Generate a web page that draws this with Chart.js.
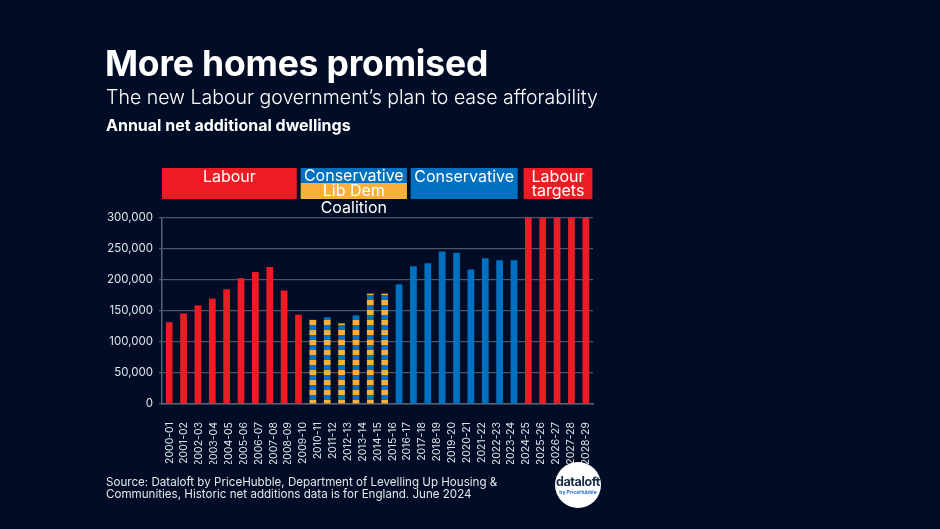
<!DOCTYPE html>
<html>
<head>
<meta charset="utf-8">
<script src="https://cdn.jsdelivr.net/npm/chart.js@4.4.1/dist/chart.umd.min.js"></script>
<style>
  html, body { margin: 0; padding: 0; }
  body { width: 940px; height: 529px; background: #010d26; position: relative; overflow: hidden; font-family: Inter, "Noto Sans", sans-serif; color: #fff; }
  #chartBox { position: absolute; left: 0; top: 0; width: 940px; height: 529px; }
  .txt { position: absolute; white-space: nowrap; line-height: 1; }
  #title { left: 105px; top: 46px; font-size: 35.5px; font-weight: 700; letter-spacing: -0.2px; }
  #subtitle { left: 106px; top: 88px; font-size: 19.5px; font-weight: 300; }
  #axisTitle { left: 106px; top: 117px; font-size: 16px; font-weight: 700; }
  #source { left: 106px; top: 477px; font-size: 11.6px; line-height: 11.5px; color: #e4e6ea; white-space: normal; width: 420px; }
  #logo { position: absolute; left: 555px; top: 462px; width: 46px; height: 46px; border-radius: 50%; background: #fff; text-align: center; }
  #logo .brand { display: block; margin-top: 14px; font-size: 12.5px; font-weight: 700; color: #1b2a4a; letter-spacing: -0.4px; line-height: 1; }
  #logo .by { display: block; font-size: 5px; font-weight: 700; color: #2a6fd6; line-height: 1; margin-top: 1px; }
</style>
</head>
<body>
<div id="chartBox"><canvas id="chart" width="940" height="529"></canvas></div>
<div class="txt" id="title">More homes promised</div>
<div class="txt" id="subtitle">The new Labour government’s plan to ease afforability</div>
<div class="txt" id="axisTitle">Annual net additional dwellings</div>
<div class="txt" id="source">Source: Dataloft by PriceHubble, Department of Levelling Up Housing &amp; Communities, Historic net additions data is for England. June 2024</div>
<div id="logo"><span class="brand">dataloft</span><span class="by">by PriceHubble</span></div>
<script>
// === Dados ===
const tickLabels = [
  "2000-01", "2001-02", "2002-03", "2003-04", "2004-05", "2005-06", "2006-07", "2007-08",
  "2008-09", "2009-10", "2010-11", "2011-12", "2012-13", "2013-14", "2014-15", "2015-16",
  "2016-17", "2017-18", "2018-19", "2019-20", "2020-21", "2021-22", "2022-23", "2023-24",
  "2024-25", "2025-26", "2026-27", "2027-28", "2028-29"
];

// one value per bar (the picture shows 30 bars under 29 labels)
const netAdditions = [
  132000, 146000, 159000, 170000, 185000, 203000, 213000, 221000, 183000, 144000,
  136000, 140000, 130000, 143000, 178000, 178000,
  193000, 222000, 227000, 246000, 244000, 217000, 235000, 232000, 232000,
  300000, 300000, 300000, 300000, 300000
];

const governments = ["Labour", "Coalition", "Conservative", "Labour targets"];
const barsPerGovernment = [10, 6, 9, 5];

const yTicks = [0, 50000, 100000, 150000, 200000, 250000, 300000];

const RED = "#ed1c24";
const BLUE = "#0070c0";
const ORANGE = "#fbb03b";
const FONT = "Inter, 'Noto Sans', sans-serif";

// cada barra recebe o governo correspondente
const barGovernment = [];
governments.forEach((g, i) => {
  for (let k = 0; k < barsPerGovernment[i]; k++) barGovernment.push(g);
});

// Listras laranja/azul da coalizão
function criarListras(ctx) {
  const tile = document.createElement("canvas");
  tile.width = 4;
  tile.height = 10;
  const t = tile.getContext("2d");
  t.fillStyle = ORANGE;
  t.fillRect(0, 0, 4, 5);
  t.fillStyle = BLUE;
  t.fillRect(0, 5, 4, 5);
  return ctx.createPattern(tile, "repeat");
}

const ctx = document.getElementById("chart").getContext("2d");
const stripes = criarListras(ctx);

const barColors = barGovernment.map(g => {
  if (g === "Coalition") return stripes;
  if (g === "Conservative") return BLUE;
  return RED;
});

// === Faixas de governo acima do gráfico ===
const headerPlugin = {
  id: "governmentHeaders",
  afterDraw(chart, args, opts) {
    const c = chart.ctx;
    const area = chart.chartArea;
    const band = (area.right - area.left) / netAdditions.length;
    const top = area.top - 50;
    const bottom = area.top - 19;
    const mid = area.top - 35;
    const px = u => area.left + u * band;

    c.save();
    c.textAlign = "center";
    c.textBaseline = "middle";
    c.font = "400 16px " + FONT;

    opts.spans.forEach(s => {
      const x0 = px(s.from), x1 = px(s.to), cx = (x0 + x1) / 2;
      if (s.name === "Coalition") {
        c.fillStyle = BLUE;
        c.fillRect(x0, top, x1 - x0, mid - top + 0.5);
        c.fillStyle = ORANGE;
        c.fillRect(x0, mid, x1 - x0, bottom - mid);
        c.fillStyle = "#fff";
        c.fillText("Conservative", cx, top + 8.5);
        c.fillText("Lib Dem", cx, mid + 8.5);
        c.fillText("Coalition", cx, area.top - 9.5);
      } else {
        c.fillStyle = s.name === "Conservative" ? BLUE : RED;
        c.fillRect(x0, top, x1 - x0, bottom - top);
        c.fillStyle = "#fff";
        if (s.name === "Labour targets") {
          c.fillText("Labour", cx, top + 9);
          c.fillText("targets", cx, top + 23);
        } else {
          c.fillText(s.name, cx, top + 9);
        }
      }
    });
    c.restore();
  }
};

new Chart(ctx, {
  type: "bar",
  data: {
    labels: netAdditions.map((_, i) => i),
    datasets: [{
      label: "Annual net additional dwellings",
      data: netAdditions,
      backgroundColor: barColors,
      borderWidth: 0,
      categoryPercentage: 1,
      barPercentage: 0.47
    }]
  },
  options: {
    responsive: false,
    animation: false,
    layout: { padding: { left: 96, top: 218, right: 347, bottom: 65 } },
    scales: {
      x: {
        position: "bottom",
        grid: { display: false },
        border: { display: true, color: "#5b6273", width: 1.5 },
        ticks: { display: false },
        afterFit: s => { s.height = 0; }
      },
      xLabels: {
        type: "category",
        position: "bottom",
        labels: tickLabels,
        offset: true,
        grid: { display: false },
        border: { display: false },
        ticks: {
          color: "#dfe2e8",
          font: { family: FONT, size: 10.5 },
          minRotation: 90,
          maxRotation: 90,
          padding: 10,
          autoSkip: false
        },
        afterFit: s => { s.height = 60; }
      },
      y: {
        min: 0,
        max: 300000,
        afterBuildTicks: s => { s.ticks = yTicks.map(v => ({ value: v })); },
        grid: { color: "#4e5567", lineWidth: 1.2, tickLength: 3 },
        border: { display: true, color: "#5b6273", width: 1.5 },
        ticks: {
          color: "#dfe2e8",
          font: { family: FONT, size: 11.5 },
          padding: 6,
          callback: v => v.toLocaleString("en-GB")
        },
        afterFit: s => { s.width = 66; }
      }
    },
    plugins: {
      legend: { display: false },
      tooltip: { enabled: false },
      governmentHeaders: {
        spans: [
          { name: "Labour", from: 0, to: 9.38 },
          { name: "Coalition", from: 9.65, to: 17.05 },
          { name: "Conservative", from: 17.31, to: 24.76 },
          { name: "Labour targets", from: 25.17, to: 29.96 }
        ]
      }
    }
  },
  plugins: [headerPlugin]
});
</script>
</body>
</html>
